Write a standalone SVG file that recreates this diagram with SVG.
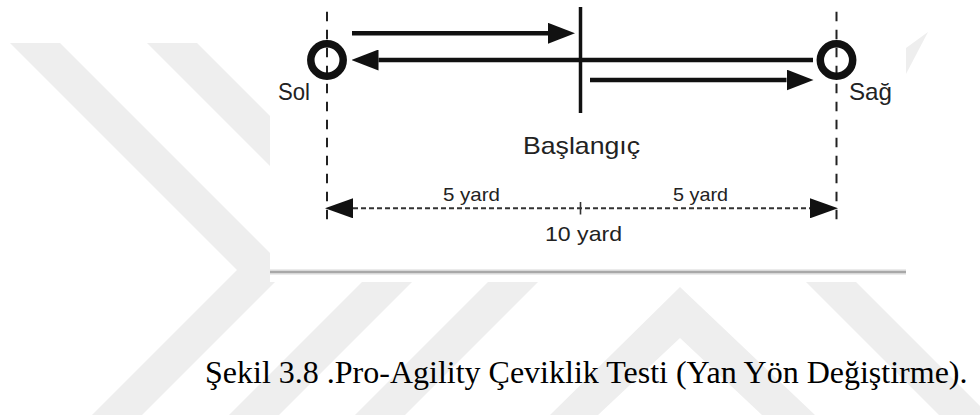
<svg xmlns="http://www.w3.org/2000/svg" width="980" height="417" viewBox="0 0 980 417">
  <style>
    .wm { fill: #eeeeee; }
    .guide { stroke: #222; stroke-width: 2; stroke-dasharray: 9.5 8.5; fill: none; }
    .cone { fill: none; stroke: #111; stroke-width: 7.5; }
    .run { stroke: #111; stroke-width: 4.5; fill: none; }
    .dim { stroke: #333; stroke-width: 2; stroke-dasharray: 5 3; fill: none; }
    .lbl { font-family: "Liberation Sans", Arial, sans-serif; fill: #222; }
    .cap { font-family: "Liberation Serif", "Times New Roman", serif; font-size: 32px; fill: #000; }
  </style>
  <defs>
    <marker id="headBig" viewBox="0 0 27 21" refX="0" refY="10.5" markerWidth="27" markerHeight="21" markerUnits="userSpaceOnUse" orient="auto">
      <path d="M0,0 L27,10.5 L0,21 Z" fill="#111"/>
    </marker>
    <marker id="headDim" viewBox="0 0 28 20" refX="0" refY="10" markerWidth="28" markerHeight="20" markerUnits="userSpaceOnUse" orient="auto-start-reverse">
      <path d="M0,0 L28,10 L0,20 Z" fill="#111"/>
    </marker>
  </defs>

  <rect x="0" y="0" width="980" height="417" fill="#ffffff"/>

  <g id="watermark">
    <polygon class="wm" points="10,43 60,43 287,270 142,415 92,415 237,270"/>
    <polygon class="wm" points="147,43 197,43 424,270 279,415 229,415 374,270"/>
    <polygon class="wm" points="495,275 545,275 405,415 355,415"/>
    <polygon class="wm" points="680,287 815,415 762,415 680,338 598,415 550,415"/>
    <polygon class="wm" points="799,275 849,275 989,415 939,415"/>
    <polygon class="wm" points="906,48 928,32 906,74"/>
  </g>

  <g id="panel">
    <rect x="270" y="0" width="636" height="282" fill="#ffffff"/>
    <rect x="270" y="269.5" width="636" height="5" fill="#d8d8d8"/>
    <rect x="270" y="271" width="636" height="2" fill="#a8a8a8"/>
  </g>

  <g id="left-cone">
    <line class="guide" x1="327" y1="11.7" x2="327" y2="225"/>
    <circle class="cone" cx="327" cy="60" r="16.2"/>
    <text class="lbl" x="278" y="99.5" font-size="24" textLength="32" lengthAdjust="spacingAndGlyphs">Sol</text>
  </g>

  <g id="right-cone">
    <line class="guide" x1="836.5" y1="11.7" x2="836.5" y2="225"/>
    <circle class="cone" cx="836.5" cy="60" r="16.2"/>
    <text class="lbl" x="849" y="100" font-size="24" textLength="43" lengthAdjust="spacingAndGlyphs">Sağ</text>
  </g>

  <g id="start-line">
    <line x1="580.5" y1="7" x2="580.5" y2="113" stroke="#111" stroke-width="3.5"/>
    <text class="lbl" x="523" y="153.5" font-size="24" textLength="117" lengthAdjust="spacingAndGlyphs">Başlangıç</text>
  </g>

  <g id="dimension">
    <line x1="580.5" y1="202" x2="580.5" y2="214.5" stroke="#333" stroke-width="1.6"/>
    <text class="lbl" x="443" y="200.5" font-size="19" textLength="57" lengthAdjust="spacingAndGlyphs">5 yard</text>
    <text class="lbl" x="673" y="200.5" font-size="19" textLength="55" lengthAdjust="spacingAndGlyphs">5 yard</text>
    <text class="lbl" x="545" y="240.5" font-size="21" textLength="77" lengthAdjust="spacingAndGlyphs">10 yard</text>
  </g>

  <g id="connectors">
    <line class="run" x1="352" y1="33.3" x2="548" y2="33.3" marker-end="url(#headBig)"/>
    <line class="run" x1="813" y1="60" x2="378.5" y2="60" marker-end="url(#headBig)"/>
    <line class="run" x1="590" y1="80" x2="786.5" y2="80" marker-end="url(#headBig)"/>
    <line class="dim" x1="353" y1="208.3" x2="810" y2="208.3" marker-start="url(#headDim)" marker-end="url(#headDim)"/>
  </g>

  <text class="cap" x="205" y="383">Şekil 3.8 .Pro-Agility Çeviklik Testi (Yan Yön Değiştirme).</text>
</svg>
